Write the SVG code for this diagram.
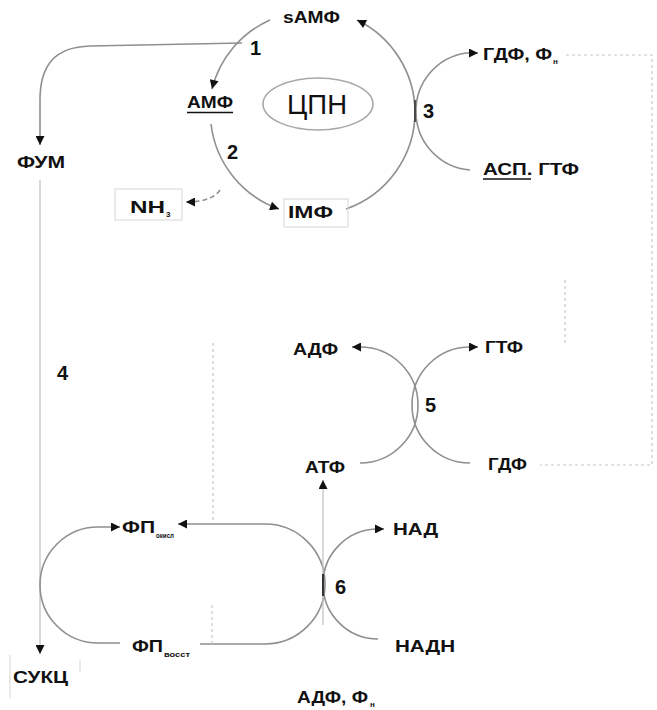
<svg xmlns="http://www.w3.org/2000/svg" width="657" height="710" viewBox="0 0 657 710">
<defs>
<marker id="ah" viewBox="0 0 10 10" refX="10" refY="5" markerWidth="11" markerHeight="9" markerUnits="userSpaceOnUse" orient="auto">
<path d="M0,0 L10,5 L0,10 z" fill="#111"/>
</marker>
<style>
.t{font-family:"Liberation Sans",Arial,sans-serif;font-weight:bold;font-size:16px;fill:#111}
.n{font-family:"Liberation Sans",Arial,sans-serif;font-weight:bold;font-size:20px;fill:#111}
.sub{font-family:"Liberation Sans",Arial,sans-serif;font-weight:bold;font-size:8px;fill:#111}
.c{fill:none;stroke:#8f8f8f;stroke-width:1.6}
.f{fill:none;stroke:#c4c4c4;stroke-width:1.3}
.d{fill:none;stroke:#c8c8c8;stroke-width:1.2;stroke-dasharray:3 3}
.box{fill:none;stroke:#dcdcdc;stroke-width:1.2}
.ul{stroke:#111;stroke-width:1.4}
</style>
</defs>
<rect width="657" height="710" fill="#fff"/>

<g id="connectors">
<path class="c" d="M270 20 A103 103 0 0 0 212 89" marker-end="url(#ah)"/>
<path class="c" d="M211 124 A103 103 0 0 0 279 209" marker-end="url(#ah)"/>
<path class="c" d="M346 209 A103 103 0 0 0 415 112 A103 103 0 0 0 357 20" marker-end="url(#ah)"/>
<path class="c" d="M416 112 A58.5 58.5 0 0 1 466 53 L478 53" marker-end="url(#ah)"/>
<path class="c" d="M416 112 A58.5 58.5 0 0 0 470 170"/>
<line x1="415" y1="100" x2="415" y2="122" stroke="#333" stroke-width="1.6"/>
<path class="c" d="M242 43 L90 46 C55 47 40 65 40 100 L40 145" marker-end="url(#ah)"/>
<path class="c" d="M220 190 Q212 202 186 202" stroke-dasharray="5 3" marker-end="url(#ah)"/>
<path class="f" d="M40 180 L40 654" marker-end="url(#ah)"/>
<path class="c" d="M360 463 A58 58 0 0 0 360 347 L352 347" marker-end="url(#ah)"/>
<path class="c" d="M470 463 A58 58 0 0 1 470 347 L478 347" marker-end="url(#ah)"/>
<path class="c" d="M120 643 L98 643 A58 58 0 0 1 98 527 L120 527" marker-end="url(#ah)"/>
<path class="c" d="M200 644 L265 644 A60 60 0 0 0 265 524 L178 524" marker-end="url(#ah)"/>
<path class="c" d="M323 584 A55 55 0 0 1 378 529 L384 529" marker-end="url(#ah)"/>
<path class="c" d="M323 584 A55 55 0 0 0 378 639"/>
<path class="f" d="M323 625 L323 480" marker-end="url(#ah)"/>
<line x1="323" y1="574" x2="323" y2="596" stroke="#333" stroke-width="2"/>
<path class="d" d="M566 55 L652 55 L652 465 L540 465"/>
<path class="d" d="M213 343 L213 523"/>
<path class="d" d="M565 280 L565 345"/>
<path class="d" d="M212 605 L212 644"/>
</g>

<g id="ellipse-cpn">
<ellipse cx="318" cy="104" rx="55" ry="26" fill="none" stroke="#a8a8a8" stroke-width="1.6"/>
<text x="317" y="114" text-anchor="middle" font-family="Liberation Sans, Arial, sans-serif" font-size="28" fill="#111" textLength="60" lengthAdjust="spacingAndGlyphs">ЦПН</text>
</g>

<g id="node-samf"><text class="t" x="283" y="23" textLength="57" lengthAdjust="spacingAndGlyphs">sАМФ</text></g>
<g id="node-amf"><text class="t" x="187" y="108" textLength="46" lengthAdjust="spacingAndGlyphs">АМФ</text><line class="ul" x1="187" y1="112.5" x2="233" y2="112.5"/></g>
<g id="node-fum"><text class="t" x="17" y="168" textLength="48" lengthAdjust="spacingAndGlyphs">ФУМ</text></g>
<g id="node-nh3"><rect class="box" x="115" y="189" width="67" height="31"/><text class="t" x="130" y="213" textLength="35" lengthAdjust="spacingAndGlyphs">NH</text><text class="sub" x="166" y="217">3</text></g>
<g id="node-imf"><rect class="box" x="284" y="199" width="64" height="28"/><text class="t" x="288" y="218" textLength="45" lengthAdjust="spacingAndGlyphs">IМФ</text></g>
<g id="node-gdf-fn"><text class="t" x="483" y="60" textLength="69" lengthAdjust="spacingAndGlyphs">ГДФ, Ф</text><text class="sub" x="553" y="64">н</text></g>
<g id="node-asp-gtf"><text class="t" x="483" y="175" textLength="96" lengthAdjust="spacingAndGlyphs">АСП. ГТФ</text><line class="ul" x1="483" y1="179" x2="531" y2="179"/></g>
<g id="node-adf"><text class="t" x="293" y="355" textLength="45" lengthAdjust="spacingAndGlyphs">АДФ</text></g>
<g id="node-gtf"><text class="t" x="485" y="353" textLength="38" lengthAdjust="spacingAndGlyphs">ГТФ</text></g>
<g id="node-atf"><text class="t" x="305" y="473" textLength="40" lengthAdjust="spacingAndGlyphs">АТФ</text></g>
<g id="node-gdf"><text class="t" x="488" y="470" textLength="39" lengthAdjust="spacingAndGlyphs">ГДФ</text></g>
<g id="node-fp-ox"><text class="t" x="122" y="533" textLength="33" lengthAdjust="spacingAndGlyphs">ФП</text><text class="sub" x="156" y="538" font-size="6" textLength="18" lengthAdjust="spacingAndGlyphs">окисл</text></g>
<g id="node-fp-red"><text class="t" x="132" y="652" textLength="31" lengthAdjust="spacingAndGlyphs">ФП</text><text class="sub" x="164" y="657" font-size="6" textLength="26" lengthAdjust="spacingAndGlyphs">восст</text></g>
<g id="node-nad"><text class="t" x="393" y="535" textLength="45" lengthAdjust="spacingAndGlyphs">НАД</text></g>
<g id="node-nadh"><text class="t" x="395" y="652" textLength="60" lengthAdjust="spacingAndGlyphs">НАДН</text></g>
<g id="node-adf-fn"><text class="t" x="297" y="703" textLength="71" lengthAdjust="spacingAndGlyphs">АДФ, Ф</text><text class="sub" x="370" y="707">н</text></g>
<g id="node-sukc"><line class="box" x1="10" y1="655" x2="10" y2="698"/><line class="box" x1="80" y1="660" x2="80" y2="672"/><text class="t" x="13" y="683" textLength="55" lengthAdjust="spacingAndGlyphs">СУКЦ</text></g>

<g id="labels">
<text class="n" x="250" y="55">1</text>
<text class="n" x="227" y="159">2</text>
<text class="n" x="423" y="118">3</text>
<text class="n" x="57" y="380">4</text>
<text class="n" x="425" y="412">5</text>
<text class="n" x="335" y="594">6</text>
</g>
</svg>
